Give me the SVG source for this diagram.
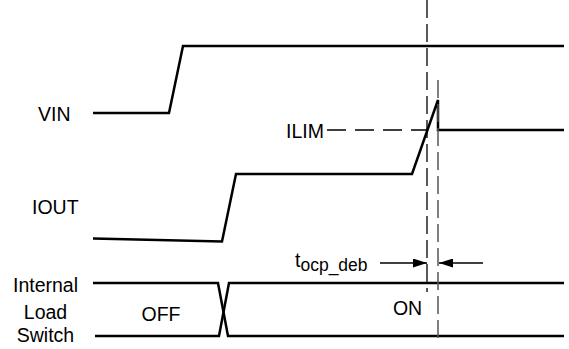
<svg xmlns="http://www.w3.org/2000/svg" width="569" height="349" viewBox="0 0 569 349">
<style>
.sig{fill:none;stroke:#000;stroke-width:2.5;stroke-linejoin:miter}
.dash{fill:none;stroke:#000;stroke-width:1.3;stroke-dasharray:18 6}
.dash2{fill:none;stroke:#555;stroke-width:1.5;stroke-dasharray:18 6}
.arr{fill:none;stroke:#000;stroke-width:1.3}
text{font-family:"Liberation Sans",Arial,sans-serif;font-size:19.5px;fill:#000}
.c{text-anchor:middle}
</style>
<defs>
<marker id="ah" markerWidth="14" markerHeight="9" refX="14" refY="4.5" orient="auto" markerUnits="userSpaceOnUse">
<path d="M0,0 L14,4.5 L0,9 Z" fill="#000"/>
</marker>
</defs>
<g id="labels">
<text x="38" y="121">VIN</text>
<text x="32" y="214">IOUT</text>
<text x="286" y="138">ILIM</text>
<text class="c" x="45.5" y="292">Internal</text>
<text class="c" x="45.5" y="319">Load</text>
<text class="c" x="45.5" y="342">Switch</text>
<text class="c" x="161" y="321">OFF</text>
<text class="c" x="407.5" y="315">ON</text>
<text x="295" y="267">t<tspan font-size="17.5px" dy="4">ocp_deb</tspan></text>
</g>
<g id="VIN">
<path class="sig" d="M93,113 L169,113 L183,46 L564,46"/>
</g>
<g id="IOUT">
<path class="sig" d="M93,238.5 L222,241.5 L236,174 L412,174 L438,100 L438,130 L564,130"/>
</g>
<g id="switch">
<path class="sig" d="M93,283 L218,283 L228,336 L564,336"/>
<path class="sig" d="M95,336 L219,336 L229,283 L564,283"/>
</g>
<g id="connectors">
<path class="dash" d="M427,0 L427,292"/>
<path class="dash2" d="M438,80 L438,338"/>
<path class="arr" d="M327,130 L427,130" stroke-dasharray="19 9"/>
<path class="arr" d="M380,263 L427,263" marker-end="url(#ah)"/>
<path class="arr" d="M483,263 L439,263" marker-end="url(#ah)"/>
</g>
</svg>
